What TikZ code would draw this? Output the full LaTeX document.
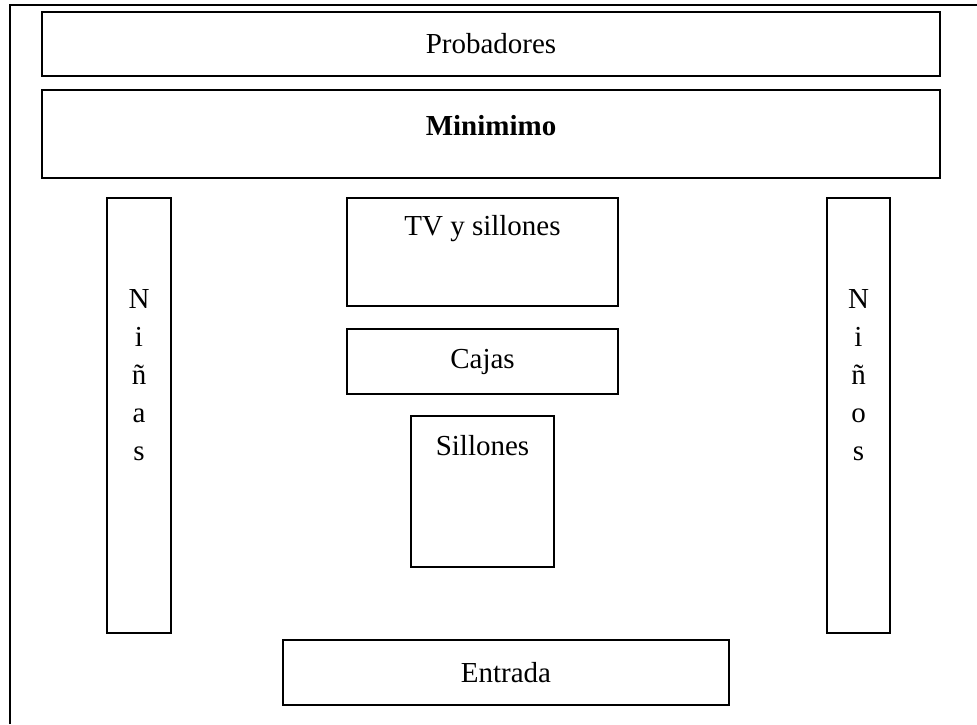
\documentclass[tikz,border=0pt]{standalone}
\usepackage{fontspec}
\setmainfont{Liberation Serif}
\usetikzlibrary{positioning}
\tikzset{
	room/.style={
		draw,
		line width=1.5pt,
		inner sep=0pt,
		font=\fontsize{29}{35}\selectfont
	},
	lbl/.style={inner sep=0pt, font=\fontsize{29}{35}\selectfont},
	vlbl/.style={inner sep=0pt, align=center, font=\fontsize{29}{38}\selectfont}
}
\begin{document}
\begin{tikzpicture}[x=1pt, y=-1pt]
		\useasboundingbox (0,0) rectangle (977,724);
		% marco del local
		\coordinate (frameTL) at (10,5);
		\coordinate (frameBL) at (10,724);
		\coordinate (frameTR) at (977,5);
		\draw[line width=1.2pt] (frameBL) -- (frameTL) -- (frameTR);
		\node[room, line width=2.5pt, minimum width=898pt, minimum height=64pt] (prob) at (491,44) {Probadores};
		\node[room, minimum width=898pt, minimum height=88pt] (mini) at (491,134) {};
		\node[lbl, font=\fontsize{29}{35}\selectfont\bfseries] (miniT) at (491,126) {Minimimo};
		\node[room, minimum width=64pt, minimum height=435pt] (ninas) at (139,415.5) {};
		\node[vlbl, below=92pt of ninas.north] (ninasT) {N\\i\\ñ\\a\\s};
		\node[room, minimum width=271pt, minimum height=108pt] (tv) at (482.5,252) {};
		\node[lbl] (tvT) at (482.5,229) {TV y sillones};
		\node[room, minimum width=271pt, minimum height=65pt] (cajas) at (482.5,361.5) {Cajas};
		\node[room, minimum width=143pt, minimum height=151pt] (sill) at (482.5,491.5) {};
		\node[lbl] (sillT) at (482.5,446) {Sillones};
		\node[room, minimum width=63pt, minimum height=435pt] (ninos) at (858.5,415.5) {};
		\node[vlbl, below=92pt of ninos.north] (ninosT) {N\\i\\ñ\\o\\s};
		\node[room, minimum width=446pt, minimum height=65pt] (entr) at (506,672.5) {Entrada};
	\end{tikzpicture}
\end{document}
